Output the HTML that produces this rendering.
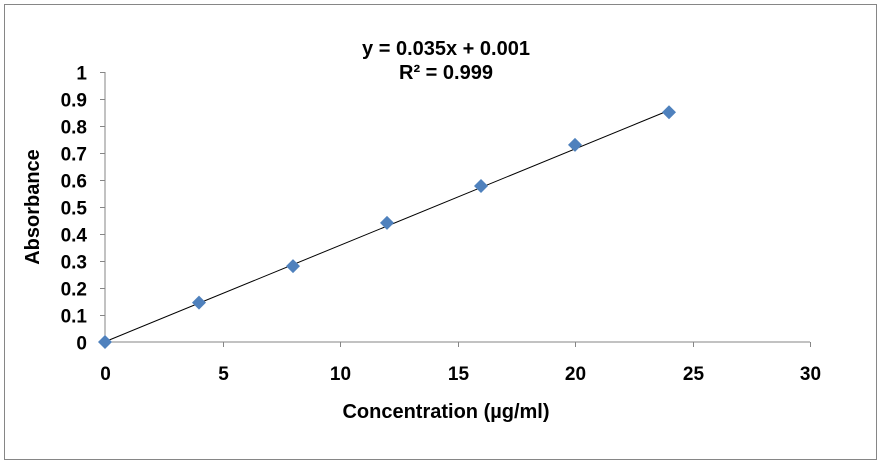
<!DOCTYPE html>
<html><head><meta charset="utf-8"><style>
body{margin:0;background:#fff;}
svg{display:block;font-family:"Liberation Sans",Arial,sans-serif;font-weight:bold;}
</style></head><body>
<svg width="882" height="465">
<rect x="4.5" y="4.5" width="872" height="455" fill="#fff" stroke="#868686"/>
<g id="axes"></g>
<g id="marks"></g>
<text x="446" y="55" font-size="20" text-anchor="middle">y = 0.035x + 0.001</text>
<text x="446" y="79" font-size="20" text-anchor="middle">R² = 0.999</text>
<text x="446" y="418" font-size="20" text-anchor="middle">Concentration (µg/ml)</text>
<text transform="translate(39,207) rotate(-90)" font-size="20" text-anchor="middle">Absorbance</text>
</svg>
<script>
const xValues=[0,4,8,12,16,20,24];
const yValues=[0,0.146,0.281,0.441,0.578,0.73,0.851];
const xTicks=[0,5,10,15,20,25,30];
const yTicks=[0,0.1,0.2,0.3,0.4,0.5,0.6,0.7,0.8,0.9,1];
const slope=0.0357, intercept=0.001;
const X0=105,X1=810,Y0=342,Y1=72;
const sx=v=>X0+(v-0)/(30-0)*(X1-X0);
const sy=v=>Y0-(v-0)/(1-0)*(Y0-Y1);
const NS="http://www.w3.org/2000/svg";
const ax=document.getElementById('axes'),mk=document.getElementById('marks');
function mkEl(t,a,p){const e=document.createElementNS(NS,t);for(const k in a)e.setAttribute(k,a[k]);p.appendChild(e);return e;}
let l=mkEl('line',{x1:X0,y1:Y0,x2:X1,y2:Y0,stroke:'#868686'},ax);


l=mkEl('line',{x1:X0,y1:Y0,x2:X0,y2:Y1,stroke:'#868686'},ax);


xTicks.forEach(v=>{const x=Math.round(sx(v))+0.5;
 mkEl('line',{x1:x,y1:Y0,x2:x,y2:Y0+5,stroke:'#868686'},ax);
 const t=mkEl('text',{x:x,y:Y0+38,'font-size':19,'text-anchor':'middle'},ax);t.textContent=v;
 
 });
yTicks.forEach(v=>{const y=Math.round(sy(v))+0.5;
 mkEl('line',{x1:X0-5,y1:y,x2:X0,y2:y,stroke:'#868686'},ax);
 const t=mkEl('text',{x:X0-18,y:y+7,'font-size':19,'text-anchor':'end'},ax);t.textContent=v;
 
 });
const xmin=xValues[0],xmax=xValues[xValues.length-1];
l=mkEl('line',{x1:sx(xmin),y1:sy(slope*xmin+intercept),x2:sx(xmax),y2:sy(slope*xmax+intercept),stroke:'#000','stroke-width':1},mk);


xValues.forEach((v,i)=>{const x=sx(v),y=sy(yValues[i]);
 const p=mkEl('polygon',{points:`${x},${y-7} ${x+7},${y} ${x},${y+7} ${x-7},${y}`,fill:'#4f81bd'},mk);
 
 });
</script>
</body></html>
